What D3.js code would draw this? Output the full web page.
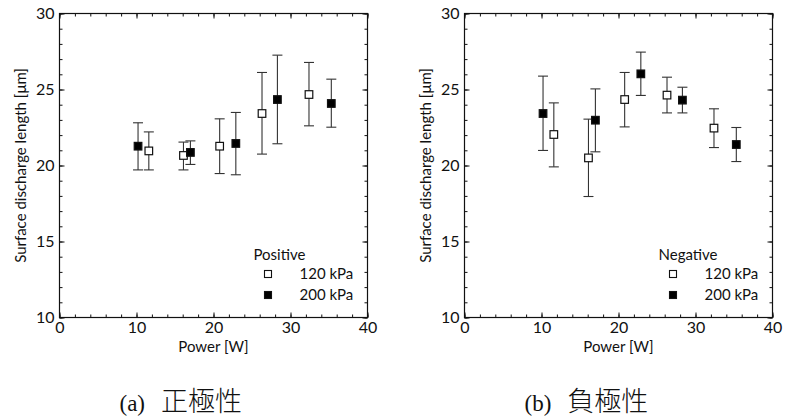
<!DOCTYPE html>
<meta charset="utf-8">
<head>
	<title>Surface discharge length vs Power</title>
</head>

<style>
body { margin: 0; background: #fff; }
svg { display: block; }
.tick text { font-family: "Lato", "Open Sans", sans-serif; font-size: 16px; fill: #111; }
.label { font-family: "Lato", "Open Sans", sans-serif; font-size: 15px; fill: #111; }
.caption { font-family: "Liberation Serif", serif; font-size: 23px; fill: #111; }
.cjk { font-family: "Noto Sans CJK JP", sans-serif; font-size: 27px; font-weight: 300; }
</style>

<body>
<svg id="chart" width="788" height="419"></svg>

<script src="https://cdnjs.cloudflare.com/ajax/libs/d3/7.8.5/d3.min.js"></script>
<script>

// power [W]
var power = [10.2, 11.6, 16.1, 17.0, 20.8, 22.9, 26.3, 28.3, 32.4, 35.3];
// which pressure each point belongs to
var pressure = ["200", "120", "120", "200", "120", "200", "120", "200", "120", "200"];

// positive polarity: mean, upper, lower [um]
var posMean = [21.27, 20.96, 20.66, 20.86, 21.27, 21.45, 23.42, 24.34, 24.67, 24.08];
var posHigh = [22.81, 22.21, 21.54, 21.62, 23.07, 23.49, 26.12, 27.26, 26.78, 25.68];
var posLow  = [19.71, 19.71, 19.71, 20.07, 19.47, 19.39, 20.75, 21.43, 22.61, 22.52];

// negative polarity
var negMean = [23.42, 22.04, 20.50, 22.98, 24.34, 26.03, 24.63, 24.30, 22.46, 21.38];
var negHigh = [25.88, 24.12, 23.05, 25.04, 26.12, 27.46, 25.81, 25.15, 23.73, 22.50];
var negLow  = [20.99, 19.91, 17.96, 20.90, 22.54, 24.61, 23.46, 23.46, 21.18, 20.26];

var legendLabels = ["120 kPa", "200 kPa"];

var panels = [
	{left: 59.5, title: "Positive", caption: ["(a)", "正極性"], mean: posMean, hi: posHigh, lo: posLow},
	{left: 464.5, title: "Negative", caption: ["(b)", "負極性"], mean: negMean, hi: negHigh, lo: negLow}
];

var svg = d3.select("#chart");
var W = 308, yTop = 13.5, yBot = 317.5;

panels.forEach(function(p){
	var g = svg.append("g");
	var x = d3.scaleLinear().domain([0, 40]).range([p.left, p.left + W]);
	var y = d3.scaleLinear().domain([10, 30]).range([yBot, yTop]);

	// frame
	g.append("rect")
		.attr("x", x(0)).attr("y", y(30))
		.attr("width", W).attr("height", yBot - yTop)
		.attr("fill", "none").attr("stroke", "#111").attr("stroke-width", 1.2);

	// ticks pointing inward on all four sides
	var xMinor = d3.range(0, 41, 2), yMinor = d3.range(10, 31, 1);
	function inner(axis, scale, vals, len, pos){
		var a = axis(scale).tickValues(vals).tickSize(len).tickFormat("");
		var gg = g.append("g").attr("transform", pos).call(a);
		gg.select(".domain").remove();
		gg.selectAll("line").attr("stroke", "#111");
		return gg;
	}
	inner(d3.axisTop, x, xMinor, 3, "translate(0," + yBot + ")");
	inner(d3.axisBottom, x, xMinor, 3, "translate(0," + yTop + ")");
	inner(d3.axisRight, y, yMinor, 3, "translate(" + x(0) + ",0)");
	inner(d3.axisLeft, y, yMinor, 3, "translate(" + x(40) + ",0)");
	inner(d3.axisTop, x, [0, 10, 20, 30, 40], 5, "translate(0," + yBot + ")");
	inner(d3.axisBottom, x, [0, 10, 20, 30, 40], 5, "translate(0," + yTop + ")");
	inner(d3.axisRight, y, [10, 15, 20, 25, 30], 5, "translate(" + x(0) + ",0)");
	inner(d3.axisLeft, y, [10, 15, 20, 25, 30], 5, "translate(" + x(40) + ",0)");

	// tick labels
	var xl = g.append("g").attr("transform", "translate(0," + yBot + ")")
		.call(d3.axisBottom(x).tickValues([0, 10, 20, 30, 40]).tickSize(0).tickPadding(4));
	xl.select(".domain").remove();
	var yl = g.append("g").attr("transform", "translate(" + x(0) + ",0)")
		.call(d3.axisLeft(y).tickValues([10, 15, 20, 25, 30]).tickSize(0).tickPadding(5));
	yl.select(".domain").remove();

	g.append("text").attr("class", "label")
		.attr("x", x(20)).attr("y", 352)
		.attr("text-anchor", "middle").text("Power [W]");
	g.append("text").attr("class", "label")
		.attr("transform", "translate(" + (p.left - 34) + "," + ((yTop + yBot) / 2) + ") rotate(-90)")
		.attr("text-anchor", "middle").text("Surface discharge length [μm]");

	// error bars
	var idx = d3.range(power.length);
	var eb = g.selectAll(".eb").data(idx).enter().append("g").attr("stroke", "#333").attr("stroke-width", 1.1);
	eb.append("line")
		.attr("x1", function(i){ return x(power[i]); }).attr("x2", function(i){ return x(power[i]); })
		.attr("y1", function(i){ return y(p.hi[i]); }).attr("y2", function(i){ return y(p.lo[i]); });
	eb.append("line")
		.attr("x1", function(i){ return x(power[i]) - 5; }).attr("x2", function(i){ return x(power[i]) + 5; })
		.attr("y1", function(i){ return y(p.hi[i]); }).attr("y2", function(i){ return y(p.hi[i]); });
	eb.append("line")
		.attr("x1", function(i){ return x(power[i]) - 5; }).attr("x2", function(i){ return x(power[i]) + 5; })
		.attr("y1", function(i){ return y(p.lo[i]); }).attr("y2", function(i){ return y(p.lo[i]); });

	// markers
	g.selectAll(".pt").data(idx).enter().append("rect")
		.attr("x", function(i){ return x(power[i]) - 3.8; })
		.attr("y", function(i){ return y(p.mean[i]) - 3.8; })
		.attr("width", 7.6).attr("height", 7.6)
		.attr("fill", function(i){ return pressure[i] == "120" ? "#fff" : "#000"; })
		.attr("stroke", "#111").attr("stroke-width", 1.2);

	// legend
	g.append("text").attr("class", "label")
		.attr("x", p.left + 194).attr("y", 260).text(p.title);
	legendLabels.forEach(function(t, k){
		var ly = 274 + k * 21;
		g.append("rect")
			.attr("x", p.left + 205).attr("y", ly - 3.5).attr("width", 7).attr("height", 7)
			.attr("fill", k == 0 ? "#fff" : "#000").attr("stroke", "#111").attr("stroke-width", 1.1);
		g.append("text").attr("class", "label")
			.attr("x", p.left + 240).attr("y", ly + 5).text(t);
	});

	// caption
	var cap = g.append("text").attr("class", "caption")
		.attr("x", p.left + 60).attr("y", 411);
	cap.append("tspan").text(p.caption[0]);
	cap.append("tspan").attr("class", "cjk").attr("dx", 16).text(p.caption[1]);
});

</script>
</body>
</html>
